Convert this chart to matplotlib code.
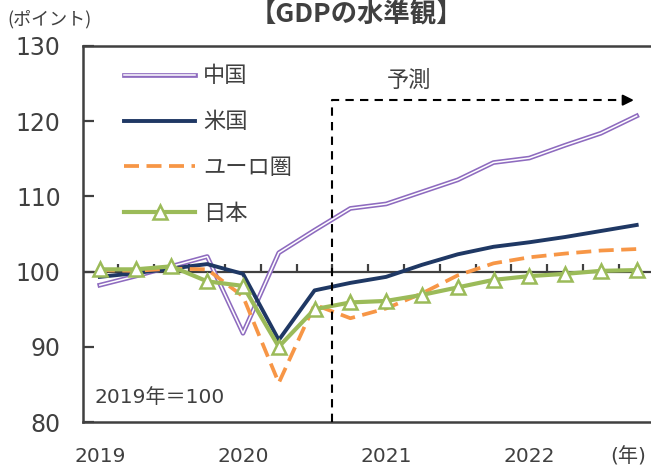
import matplotlib
matplotlib.use('Agg')
from matplotlib import pyplot as plt
import matplotlib.patheffects as pe

plt.rcParams['font.family'] = ['DejaVu Sans', 'Noto Sans CJK JP']

# quarterly, 2019Q1 .. 2022Q4 (2019 = 100)
quarters = list(range(16))
china = [98.2, 99.4, 100.7, 102.0, 91.8, 102.5, 105.5, 108.4,
         109.0, 110.6, 112.2, 114.5, 115.1, 116.8, 118.4, 120.7]
usa = [99.3, 99.8, 100.4, 101.0, 99.7, 90.9, 97.5, 98.5,
       99.3, 100.9, 102.3, 103.3, 103.9, 104.6, 105.4, 106.2]
euro = [100.2, 100.1, 100.4, 100.3, 96.7, 85.2, 95.6, 93.8,
        95.1, 97.1, 99.5, 101.1, 101.9, 102.4, 102.8, 103.0]
japan = [100.3, 100.3, 100.7, 98.7, 98.1, 90.0, 95.0, 95.9,
         96.1, 96.9, 97.9, 98.9, 99.4, 99.7, 100.1, 100.2]

year_pos = [0, 4, 8, 12, 14.75]
year_labels = ['2019', '2020', '2021', '2022', '(年)']
forecast_start = 6.5
forecast_end = 15.0

purple = '#8e6bbf'
navy = '#1f3864'
orange = '#f79646'
green = '#9bbb59'
gray = '#404040'

fig = plt.figure(figsize=(6.51, 4.66), dpi=100)
ax = fig.add_axes([0.1275, 0.0944, 0.8725, 0.8069])

ax.plot(quarters, china, color='white', lw=1.1, zorder=2, label='中国',
        path_effects=[pe.Stroke(linewidth=3.4, foreground=purple), pe.Normal()])
ax.plot(quarters, usa, color=navy, lw=2.8, zorder=3, label='米国')
ax.plot(quarters, euro, color=orange, lw=2.7, ls=(0, (4, 2)), zorder=4, label='ユーロ圏')
ax.plot(quarters, japan, color=green, lw=3.0, marker='^', ms=10,
        mfc='white', mec=green, mew=1.8, zorder=5, label='日本')

# 100 line with quarter ticks
ax.axhline(100, color=gray, lw=1.6, zorder=1)
bounds = [q + 0.5 for q in quarters[:-1]]
ax.vlines(bounds, 100, 100.95, color=gray, lw=1.6, zorder=1)

# forecast marker
ax.plot([forecast_start, forecast_start, forecast_end - 0.3], [80, 122.8, 122.8],
        color='black', lw=1.5, ls=(0, (4, 3)), zorder=6)
ax.annotate('', xy=(forecast_end, 122.8), xytext=(forecast_end - 0.35, 122.8),
            arrowprops=dict(arrowstyle='-|>', color='black', lw=1.5, mutation_scale=16))
ax.text(8.65, 125.4, '予測', fontsize=16, color=gray, ha='center', va='center')
ax.text(-0.15, 83.2, '2019年＝100', fontsize=14.5, color=gray, ha='left', va='center')

ax.set_xlim(-0.47, 15.4)
ax.set_ylim(80, 130)
ax.set_yticks([80, 90, 100, 110, 120, 130])
ax.set_xticks(year_pos)
ax.set_xticklabels(year_labels)
ax.tick_params(axis='y', direction='in', length=8, width=1.6, color=gray,
               labelsize=17, labelcolor=gray, pad=16)
ax.tick_params(axis='x', length=0, labelsize=14.5, labelcolor=gray, pad=18)
ax.spines['right'].set_visible(False)
for s in ['left', 'bottom', 'top']:
    ax.spines[s].set_color(gray)
    ax.spines[s].set_linewidth(1.8)

leg = ax.legend(loc='upper left', bbox_to_anchor=(0.037, 1.0), frameon=False,
                fontsize=16, handlelength=3.2, labelspacing=1.15, numpoints=1,
                handletextpad=0.35, labelcolor=gray)

fig.text(0.548, 0.967, '【GDPの水準観】', fontsize=19, fontweight='bold',
         color=gray, ha='center', va='center', family=['Noto Sans CJK JP'])
fig.text(0.012, 0.958, '(ポイント)', fontsize=13, color=gray, ha='left', va='center',
         family=['Noto Sans CJK JP'])

fig.savefig('out.png', dpi=100)
